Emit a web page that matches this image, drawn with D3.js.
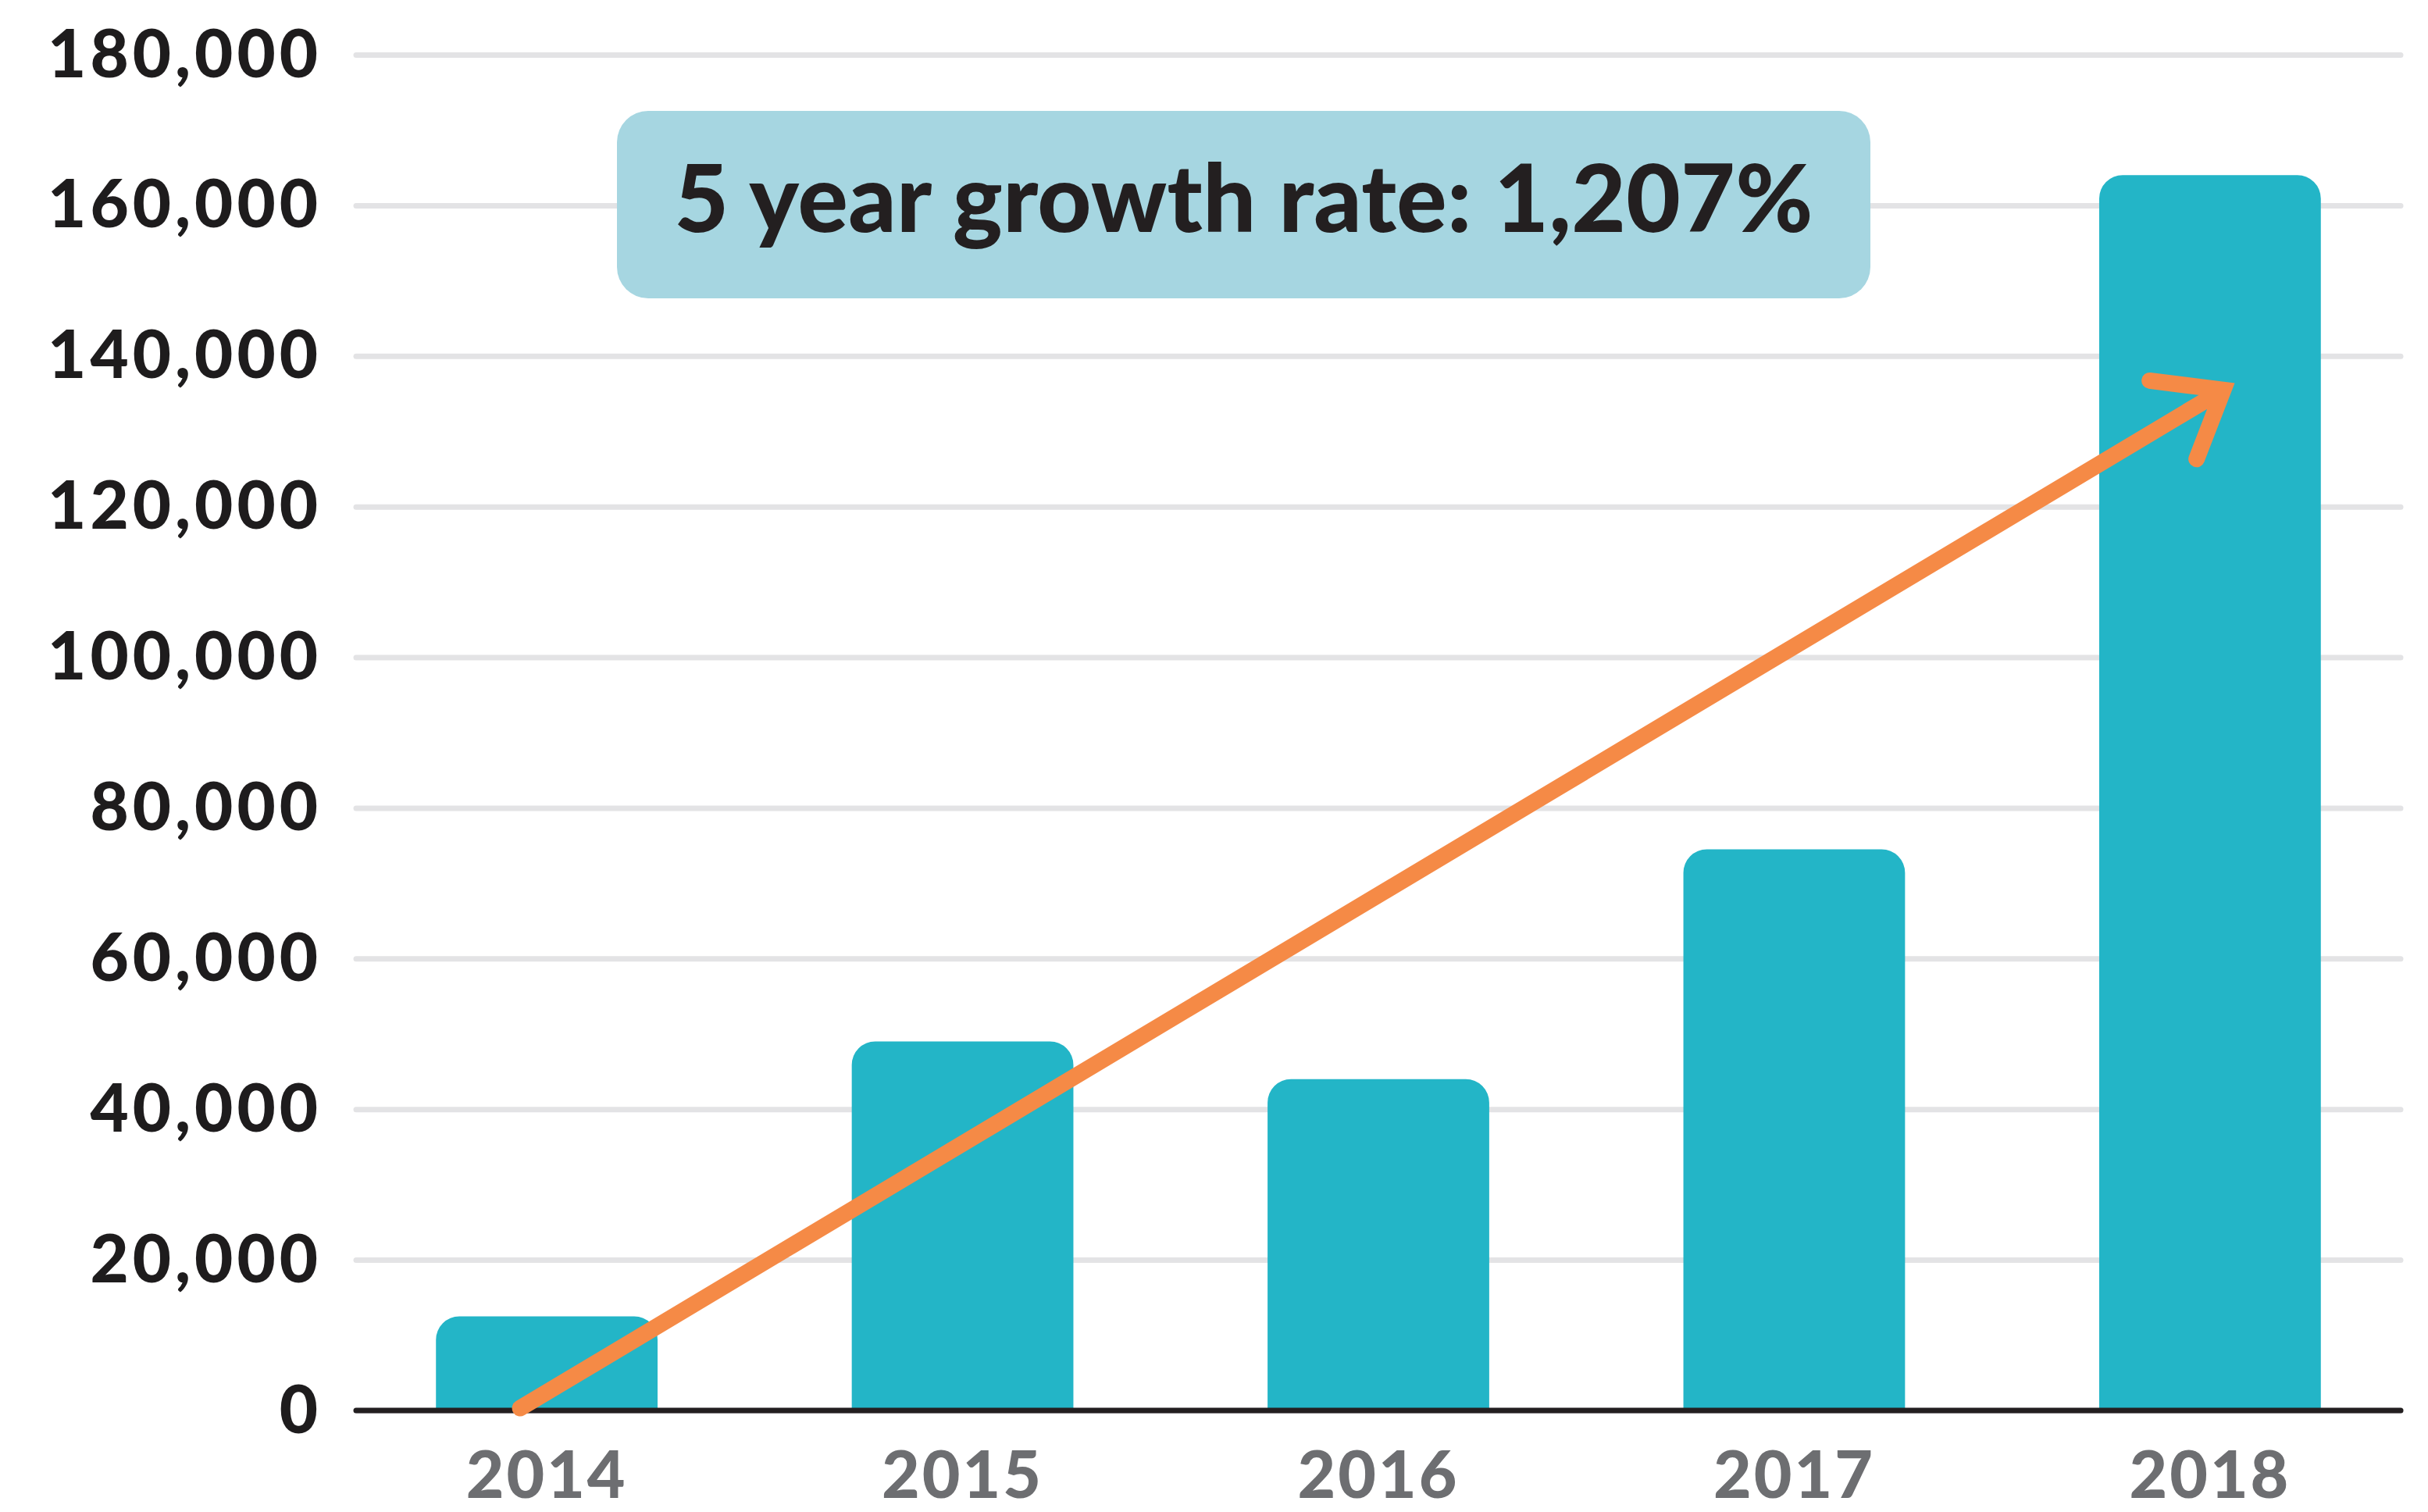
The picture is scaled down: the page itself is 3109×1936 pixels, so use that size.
<!DOCTYPE html>
<html>
<head>
<meta charset="utf-8">
<script src="https://cdn.jsdelivr.net/npm/d3@7"></script>
<style>
  html, body { margin: 0; background: #ffffff; }
  svg { display: block; }
</style>
</head>
<body>
<div id="chart"></div>
<script>
// values
const years = ["2014", "2015", "2016", "2017", "2018"];
const visitors = [12500, 49000, 44000, 74500, 164000];
const yTicks = [0, 20000, 40000, 60000, 80000, 100000, 120000, 140000, 160000, 180000];
const headline = "5 year growth rate: 1,207%";

const W = 3109, H = 1936;
const margin = { top: 70, right: 35, bottom: 130, left: 456 };
const innerW = W - margin.left - margin.right;
const innerH = H - margin.top - margin.bottom;
const FONT = "Lato, 'Open Sans', sans-serif";

const svg = d3.select("#chart").append("svg")
    .attr("width", W)
    .attr("height", H)
    .style("font-family", FONT);

const g = svg.append("g").attr("transform", `translate(${margin.left},${margin.top})`);

const x = d3.scaleBand()
    .domain(years)
    .range([0, innerW])
    .paddingInner(0.467)
    .paddingOuter(0.192);

const y = d3.scaleLinear()
    .domain([0, 180000])
    .range([innerH, 0]);

// grid + y labels
const yAxis = g.append("g")
    .call(d3.axisLeft(y).tickValues(yTicks).tickFormat(d3.format(",")).tickSize(-innerW).tickPadding(44));
yAxis.attr("font-family", null);
yAxis.select(".domain").remove();
yAxis.selectAll(".tick line")
    .attr("stroke", "#e3e3e5")
    .attr("stroke-width", 7)
    .attr("stroke-linecap", "round");
yAxis.selectAll(".tick text")
    .attr("fill", "#1e1c1d")
    .attr("dy", "0.33em")
    .style("font-family", FONT)
    .style("font-size", "85px")
    .style("font-weight", 900)
    .style("letter-spacing", "5px");

// headline box
const boxX = 790 - margin.left, boxY = 142 - margin.top, boxW = 1605, boxH = 240;
g.append("rect")
    .attr("x", boxX).attr("y", boxY)
    .attr("width", boxW).attr("height", boxH)
    .attr("rx", 40)
    .attr("fill", "#a6d6e1");
g.append("text")
    .attr("x", boxX + boxW / 2)
    .attr("y", 297 - margin.top)
    .attr("text-anchor", "middle")
    .attr("fill", "#231f20")
    .attr("textLength", 1458)
    .attr("lengthAdjust", "spacing")
    .style("font-size", "120px")
    .style("font-weight", 900)
    .text(headline);

// bars, square bottom and rounded top
const r = 30;
const barPath = (d, i) => {
    const x0 = x(years[i]), w = x.bandwidth();
    const yt = y(d), yb = y(0);
    return `M${x0},${yb}V${yt + r}A${r},${r} 0 0 1 ${x0 + r},${yt}H${x0 + w - r}A${r},${r} 0 0 1 ${x0 + w},${yt + r}V${yb}Z`;
};
g.selectAll(".bar")
    .data(visitors)
    .join("path")
    .attr("class", "bar")
    .attr("d", barPath)
    .attr("fill", "#23b5c7");

// base line
g.append("line")
    .attr("x1", 0).attr("x2", innerW)
    .attr("y1", y(0)).attr("y2", y(0))
    .attr("stroke", "#231f20")
    .attr("stroke-width", 7)
    .attr("stroke-linecap", "round");

// x labels
const xAxis = g.append("g")
    .attr("transform", `translate(0,${innerH})`)
    .call(d3.axisBottom(x).tickSize(0));
xAxis.attr("font-family", null);
xAxis.select(".domain").remove();
xAxis.selectAll(".tick text")
    .attr("y", 112)
    .attr("dy", 0)
    .attr("fill", "#6d6e71")
    .style("font-family", FONT)
    .style("font-size", "84px")
    .style("font-weight", 900)
    .style("letter-spacing", "3px");

// trend arrow from the 2014 bar base to high on the 2018 bar
const ax1 = x("2014") + x.bandwidth() * 0.38, ay1 = y(0) - 3;
const ax2 = x("2018") + x.bandwidth() * 0.56, ay2 = y(135500);
const ang = Math.atan2(ay1 - ay2, ax1 - ax2);
const head = 95, spread = 38 * Math.PI / 180;
const h1 = [ax2 + head * Math.cos(ang + spread), ay2 + head * Math.sin(ang + spread)];
const h2 = [ax2 + head * Math.cos(ang - spread), ay2 + head * Math.sin(ang - spread)];
const arrow = d3.path();
arrow.moveTo(ax1, ay1);
arrow.lineTo(ax2, ay2);
arrow.moveTo(h1[0], h1[1]);
arrow.lineTo(ax2, ay2);
arrow.lineTo(h2[0], h2[1]);
g.append("path")
    .attr("d", arrow.toString())
    .attr("fill", "none")
    .attr("stroke", "#f58a46")
    .attr("stroke-width", 21)
    .attr("stroke-linecap", "round")
    .attr("stroke-linejoin", "miter");
</script>
</body>
</html>
